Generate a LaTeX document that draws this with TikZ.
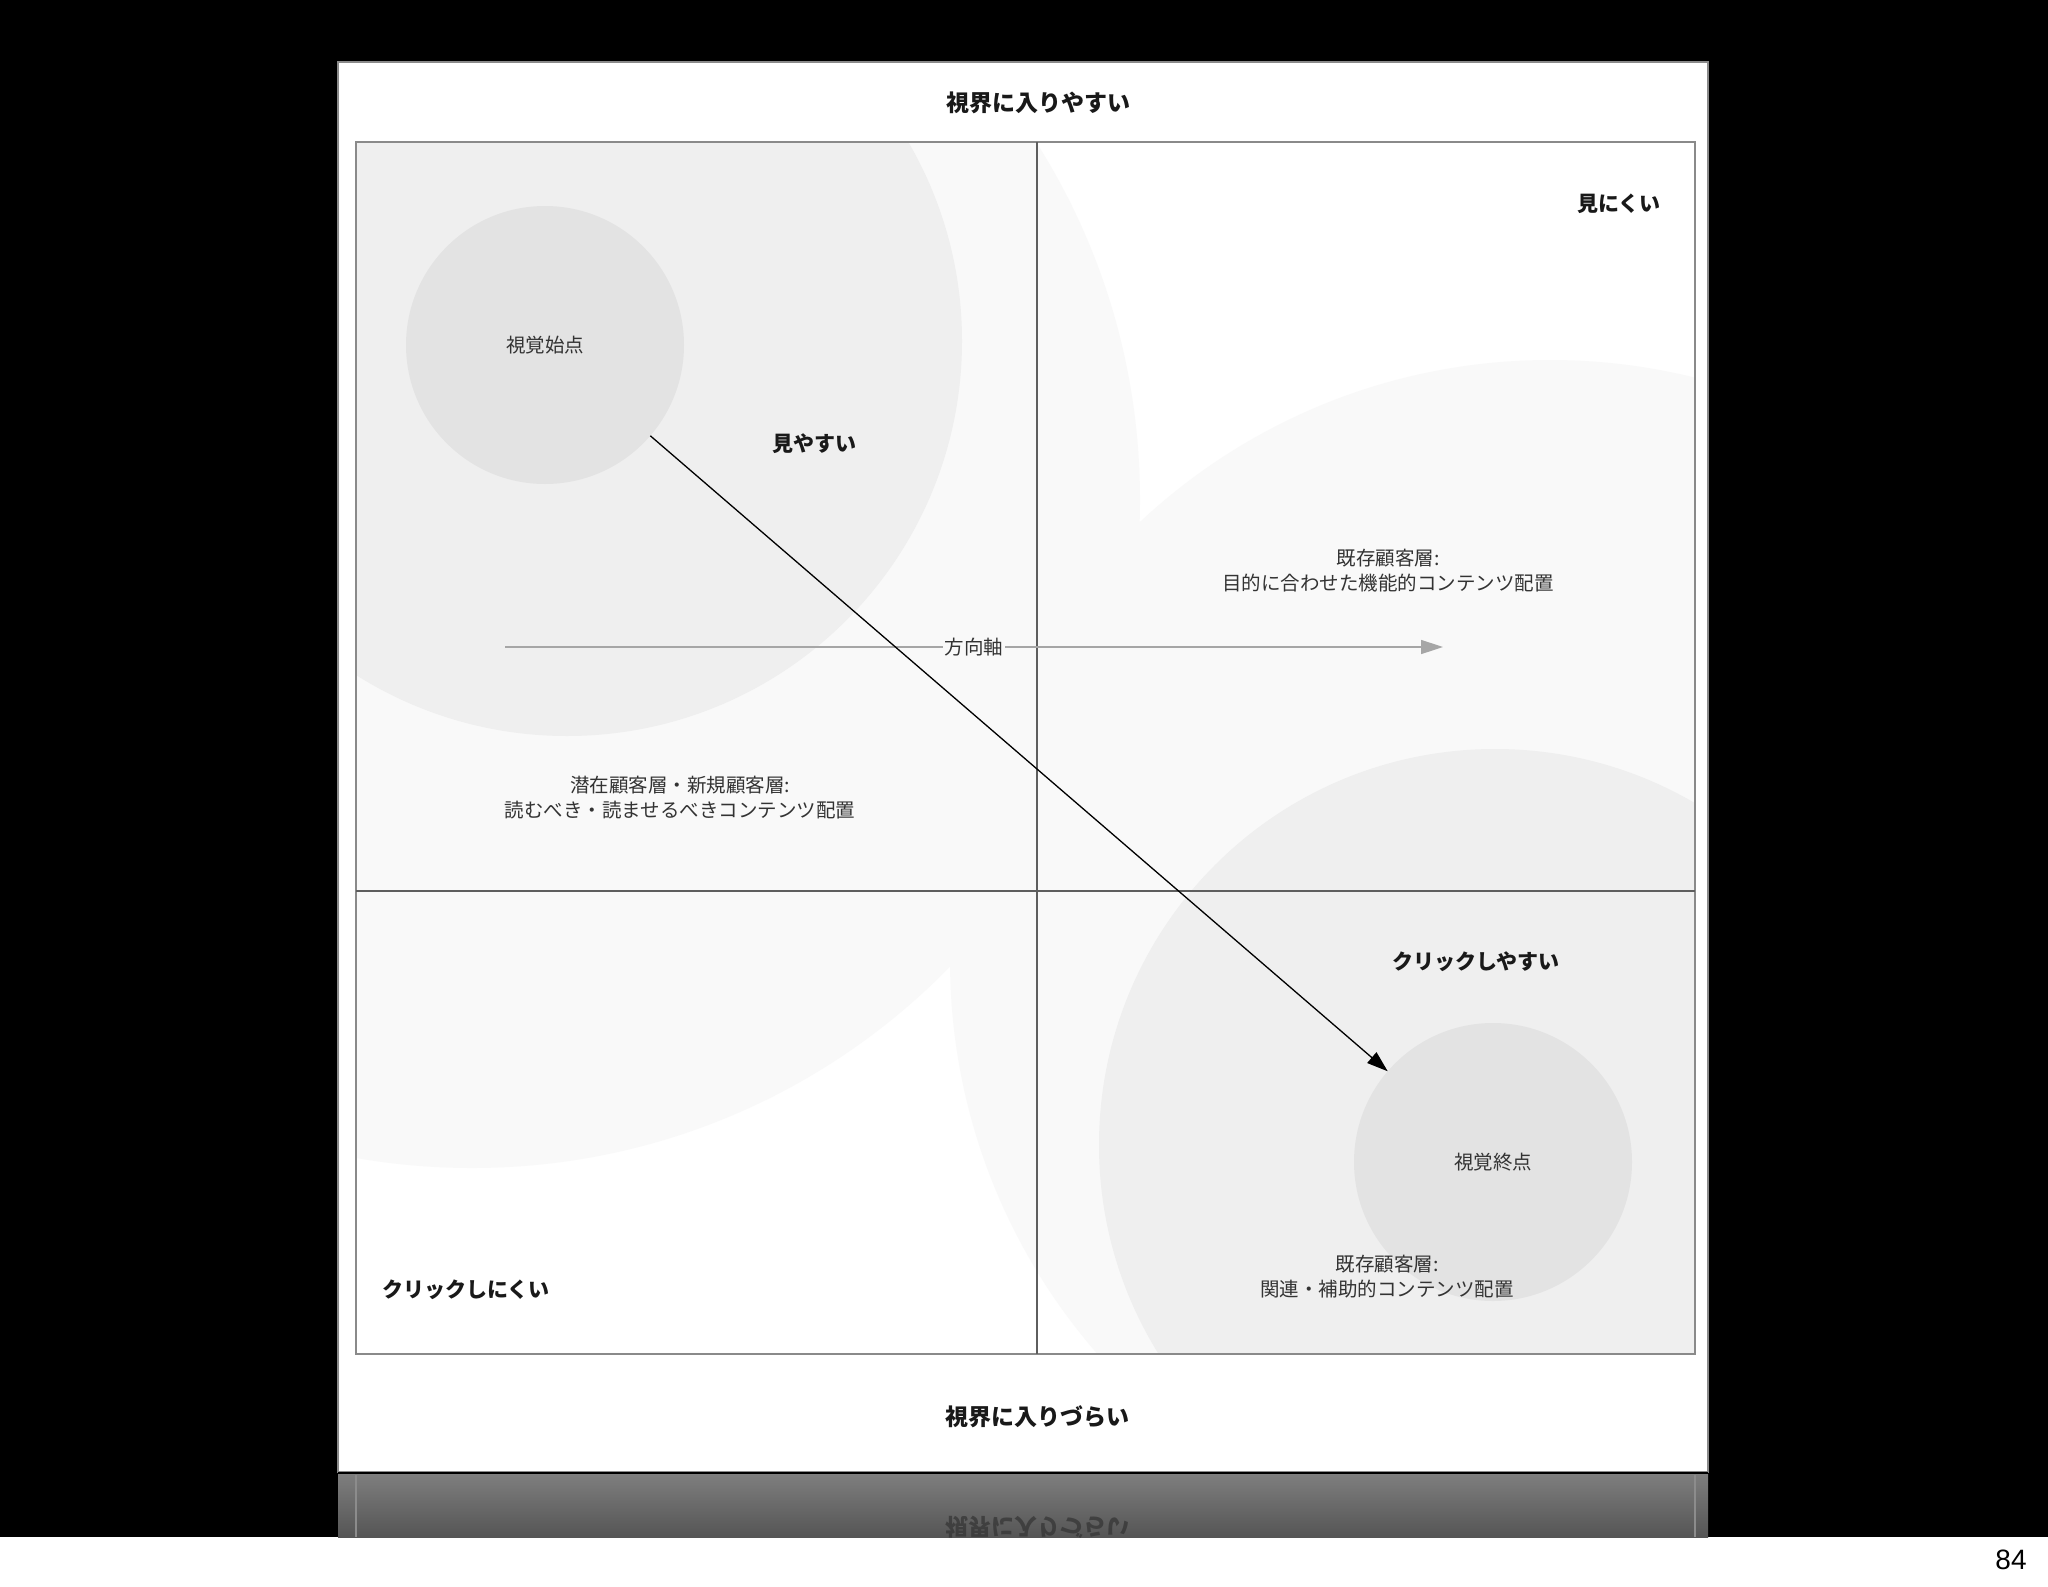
\documentclass[tikz,border=0pt]{standalone}
\usepackage{fontspec}
\setmainfont{Noto Sans CJK JP}
\newfontfamily\numfont{Liberation Sans}
\usetikzlibrary{arrows.meta}
\definecolor{palegray}{HTML}{F9F9F9}
\definecolor{zonegray}{HTML}{EFEFEF}
\definecolor{spotgray}{HTML}{E3E3E3}
\definecolor{framegray}{HTML}{8A8A8A}
\definecolor{rulegray}{HTML}{5E5E5E}
\definecolor{axisgray}{HTML}{A6A6A6}
\definecolor{ink}{HTML}{333333}
\definecolor{refltop}{HTML}{7E7E7E}
\definecolor{reflbot}{HTML}{555555}

\begin{document}
\begin{tikzpicture}[x=1pt,y=-1pt,
    spot/.style={circle,fill=spotgray,minimum size=278pt,inner sep=0pt,outer sep=0pt,
      text=ink,font=\fontsize{19.5}{24}\selectfont},
    head/.style={text=black!90,font=\bfseries\fontsize{23}{28}\selectfont},
    tag/.style={text=black!90,font=\bfseries\fontsize{21}{26}\selectfont},
    note/.style={align=center,text=ink,font=\fontsize{19.5}{25}\selectfont},
    flow/.style={draw=black,line width=1.3pt,-{Triangle[length=21pt,width=14pt]}},
    axis/.style={draw=axisgray,line width=1.5pt,-{Triangle[length=22pt,width=14pt]}}]
  \useasboundingbox (0,0) rectangle (2048,1587);
  \fill[white] (0,0) rectangle (2048,1587);
  \fill[black] (0,0) rectangle (2048,1537);
  \draw[draw=framegray,fill=white,line width=1.5pt] (338,62) rectangle (1708,1472);
  \begin{scope}
    \clip (356,142) rectangle (1695,1354);
    \fill[palegray] (472,500) circle (668pt);
    \fill[palegray] (1550,960) circle (600pt);
    \fill[zonegray] (567,341) circle (395pt);
    \fill[zonegray] (1495,1145) circle (396pt);
  \end{scope}
  \draw[framegray,line width=1.8pt] (356,142) rectangle (1695,1354);
  \draw[rulegray,line width=1.3pt] (1037,142) -- (1037,1354);
  \draw[rulegray,line width=1.3pt] (356,891) -- (1695,891);

  \node[spot] (start) at (545,345) {視覚始点};
  \node[spot] (goal) at (1493,1162) {視覚終点};

  \coordinate (axisL) at (505,647);
  \coordinate (axisR) at (1443,647);
  \draw[axis] (axisL) -- node[fill=palegray,inner sep=2pt,text=ink,
    font=\fontsize{19.5}{24}\selectfont] (axislbl) {方向軸} (axisR);
  \draw[flow] (start) -- (goal);

  \node[head] (seeable) at (1038,103) {視界に入りやすい};
  \node[head] (unseeable) at (1037,1417) {視界に入りづらい};
  \node[tag] (hardsee) at (1619,204) {見にくい};
  \node[tag] (easysee) at (814,444) {見やすい};
  \node[tag] (easyclick) at (1476,962) {クリックしやすい};
  \node[tag] (hardclick) at (466,1290) {クリックしにくい};
  \node[note] (newcust) at (680,798) {潜在顧客層・新規顧客層:\\読むべき・読ませるべきコンテンツ配置};
  \node[note] (oldcusta) at (1388,571) {既存顧客層:\\目的に合わせた機能的コンテンツ配置};
  \node[note] (oldcustb) at (1387,1277) {既存顧客層:\\関連・補助的コンテンツ配置};

  \shade[top color=refltop,bottom color=reflbot] (338,1474) rectangle (1708,1537);
  \draw[black,line width=2pt] (338,1473) -- (1708,1473);
  \draw[black!45,line width=1.5pt] (356,1475) -- (356,1537);
  \draw[black!45,line width=1.5pt] (1695,1475) -- (1695,1537);
  \begin{scope}
    \clip (338,1475) rectangle (1708,1537);
    \begin{scope}[shift={(1037,1527)},yscale=-1]
      \node[head,transform shape,text=black!80,opacity=0.7] (mirror) at (0,0) {視界に入りづらい};
    \end{scope}
  \end{scope}
  \node[font=\numfont\fontsize{28}{32}\selectfont] (pageno) at (2011,1560) {84};
\end{tikzpicture}
\end{document}
